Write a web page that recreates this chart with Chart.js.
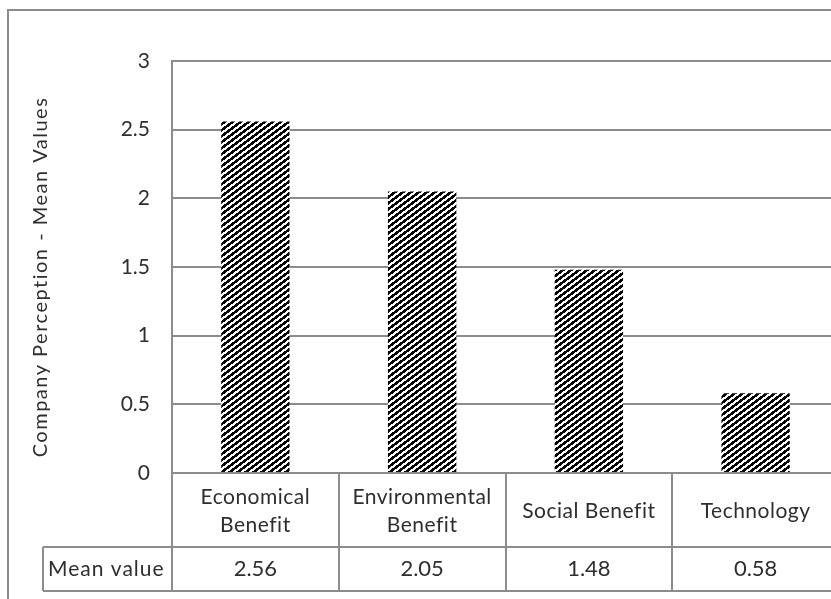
<!DOCTYPE html>
<html>
<head>
<meta charset="utf-8">
<script src="https://cdn.jsdelivr.net/npm/chart.js@4/dist/chart.umd.min.js"></script>
<style>
  html, body { margin: 0; padding: 0; background: #fff; overflow: hidden; width: 831px; height: 599px; }
  canvas { display: block; }
</style>
</head>
<body>
<canvas id="c" width="839" height="599"></canvas>
<script>
// Mean perception scores by benefit area
const categories = [["Economical", "Benefit"], ["Environmental", "Benefit"], ["Social Benefit"], ["Technology"]];
const meanValues = [2.56, 2.05, 1.48, 0.58];
const valueLabels = ["2.56", "2.05", "1.48", "0.58"];
const yTicks = [0, 0.5, 1, 1.5, 2, 2.5, 3];
const yTitle = "Company Perception - Mean Values";
const rowTitle = "Mean value";

const FONT = "Lato, 'Open Sans', sans-serif";
const LINE = "#8c8c8c";
const TEXT = "#2e2e2e";

// upward diagonal hatch tile (8 px across, 6 px down per stripe)
function hatchPattern() {
  const w = 8, h = 6;
  const t = document.createElement("canvas");
  t.width = w; t.height = h;
  const g = t.getContext("2d");
  const img = g.createImageData(w, h);
  for (let y = 0; y < h; y++) {
    for (let x = 0; x < w; x++) {
      const on = ((3 * x + 4 * y) % 24) < 13;
      const v = on ? 5 : 255;
      const i = (y * w + x) * 4;
      img.data[i] = v; img.data[i + 1] = v; img.data[i + 2] = v; img.data[i + 3] = 255;
    }
  }
  g.putImageData(img, 0, 0);
  return document.getElementById("c").getContext("2d").createPattern(t, "repeat");
}

// outer frame, axis title and the data table under the plot
const tablePlugin = {
  id: "dataTable",
  beforeDraw(chart) {
    const ctx = chart.ctx;
    ctx.save();
    ctx.strokeStyle = LINE;
    ctx.lineWidth = 2;
    ctx.beginPath();
    ctx.moveTo(8, 700); ctx.lineTo(8, 10); ctx.lineTo(900, 10);
    ctx.stroke();
    ctx.restore();
  },
  afterDraw(chart) {
    const ctx = chart.ctx;
    const a = chart.chartArea;
    const x = chart.scales.x;
    const n = categories.length;
    const half = (x.getPixelForValue(1) - x.getPixelForValue(0)) / 2;
    const rowTop = a.bottom;
    const rowMid = a.bottom + 74;
    const rowBot = a.bottom + 118;
    const tableLeft = 43;

    ctx.save();
    ctx.strokeStyle = LINE;
    ctx.lineWidth = 2;
    ctx.beginPath();
    // axis line through the table
    ctx.moveTo(a.left, a.top); ctx.lineTo(a.left, rowBot);
    // column dividers
    for (let i = 0; i <= n; i++) {
      const px = Math.round(x.getPixelForValue(i) + half);
      ctx.moveTo(px, rowTop); ctx.lineTo(px, rowBot);
    }
    // horizontal rules
    ctx.moveTo(tableLeft, rowMid); ctx.lineTo(900, rowMid);
    ctx.moveTo(tableLeft, rowBot); ctx.lineTo(900, rowBot);
    ctx.moveTo(tableLeft, rowMid); ctx.lineTo(tableLeft, rowBot);
    ctx.stroke();

    ctx.fillStyle = TEXT;
    ctx.font = "21px " + FONT;
    ctx.letterSpacing = "0.5px";
    ctx.textAlign = "center";
    ctx.textBaseline = "middle";
    categories.forEach((lab, i) => {
      const cx = x.getPixelForValue(i);
      if (lab.length === 1) {
        ctx.fillText(lab[0], cx, rowTop + 38);
      } else {
        ctx.fillText(lab[0], cx, rowTop + 24);
        ctx.fillText(lab[1], cx, rowTop + 52);
      }
    });
    ctx.font = "22px " + FONT;
    ctx.letterSpacing = "0px";
    categories.forEach((lab, i) => {
      ctx.fillText(valueLabels[i], x.getPixelForValue(i), rowMid + 22);
    });
    ctx.font = "21px " + FONT;
    ctx.textAlign = "left";
    ctx.letterSpacing = "1px";
    ctx.fillText(rowTitle, 48, rowMid + 22);

    // rotated y-axis title
    ctx.translate(41, 277);
    ctx.rotate(-Math.PI / 2);
    ctx.textAlign = "center";
    ctx.font = "20px " + FONT;
    ctx.letterSpacing = "1.5px";
    ctx.fillText(yTitle, 0, 0);
    ctx.restore();
  }
};

new Chart(document.getElementById("c"), {
  type: "bar",
  data: {
    labels: categories,
    datasets: [{
      data: meanValues,
      backgroundColor: hatchPattern(),
      borderWidth: 0,
      barPercentage: 0.41,
      categoryPercentage: 1.0
    }]
  },
  options: {
    responsive: false,
    animation: false,
    devicePixelRatio: 1,
    layout: { padding: { top: 61, bottom: 126, left: 0, right: 0 } },
    plugins: { legend: { display: false }, tooltip: { enabled: false } },
    scales: {
      x: { display: false },
      y: {
        min: 0, max: 3,
        afterFit(s) { s.width = 172; },
        afterBuildTicks(s) { s.ticks = yTicks.map(v => ({ value: v })); },
        ticks: {
          color: TEXT,
          font: { family: FONT, size: 21 },
          padding: 22,
          callback: v => String(v)
        },
        grid: { color: LINE, lineWidth: 2, drawTicks: false },
        border: { display: true, color: LINE, width: 2 }
      }
    }
  },
  plugins: [tablePlugin]
});
</script>
</body>
</html>
